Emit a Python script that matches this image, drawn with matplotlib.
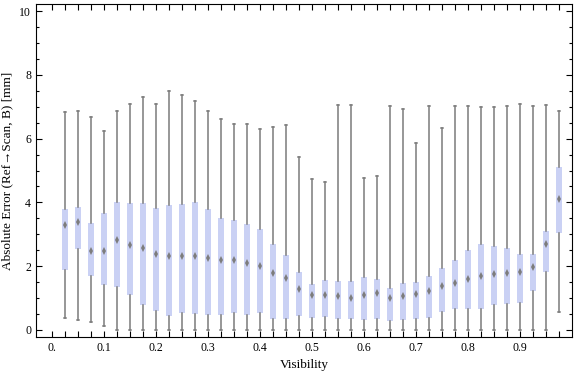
import matplotlib
matplotlib.use("Agg")
import matplotlib.pyplot as plt
from matplotlib.ticker import MultipleLocator, FixedLocator

plt.rcParams['font.family'] = ['Liberation Serif', 'DejaVu Serif']

visibility = [0.025, 0.05, 0.075, 0.1, 0.125, 0.15, 0.175, 0.2, 0.225, 0.25,
              0.275, 0.3, 0.325, 0.35, 0.375, 0.4, 0.425, 0.45, 0.475, 0.5,
              0.525, 0.55, 0.575, 0.6, 0.625, 0.65, 0.675, 0.7, 0.725, 0.75,
              0.775, 0.8, 0.825, 0.85, 0.875, 0.9, 0.925, 0.95, 0.975]
whisker_lo = [0.385, 0.31, 0.25, 0.13, 0, 0, 0, 0, 0, 0,
              0, 0, 0, 0, 0, 0, 0, 0, 0, 0,
              0, 0, 0, 0, 0, 0, 0, 0, 0, 0,
              0, 0, 0, 0, 0, 0, 0, 0, 0.57]
q1 = [1.89, 2.55, 1.70, 1.40, 1.36, 1.11, 0.79, 0.61, 0.45, 0.54,
      0.51, 0.46, 0.46, 0.52, 0.48, 0.52, 0.33, 0.35, 0.43, 0.38,
      0.40, 0.33, 0.36, 0.30, 0.33, 0.27, 0.30, 0.36, 0.39, 0.56,
      0.65, 0.66, 0.65, 0.78, 0.80, 0.86, 1.21, 1.83, 3.03]
median = [3.28, 3.38, 2.49, 2.47, 2.82, 2.65, 2.56, 2.39, 2.33, 2.33,
          2.32, 2.26, 2.19, 2.19, 2.11, 2.02, 1.79, 1.62, 1.30, 1.10,
          1.10, 1.05, 1.01, 1.10, 1.15, 1.00, 1.07, 1.14, 1.22, 1.37,
          1.47, 1.61, 1.69, 1.76, 1.78, 1.82, 1.99, 2.70, 4.11]
q3 = [3.79, 3.86, 3.36, 3.66, 4.01, 3.98, 3.98, 3.82, 3.92, 3.95,
      4.01, 3.80, 3.52, 3.45, 3.33, 3.16, 2.70, 2.35, 1.83, 1.44,
      1.58, 1.54, 1.54, 1.66, 1.61, 1.32, 1.46, 1.51, 1.70, 1.95,
      2.20, 2.51, 2.70, 2.64, 2.58, 2.39, 2.39, 3.11, 5.11]
whisker_hi = [6.82, 6.85, 6.67, 6.23, 6.85, 7.10, 7.30, 7.07, 7.48, 7.38,
              7.17, 6.86, 6.61, 6.45, 6.45, 6.30, 6.36, 6.42, 5.42, 4.73,
              4.63, 7.05, 7.05, 4.76, 4.82, 7.02, 6.92, 5.86, 7.03, 6.32,
              7.02, 7.02, 6.98, 6.98, 7.02, 7.07, 7.02, 7.05, 6.88]

xtick_vals = [0.0, 0.1, 0.2, 0.3, 0.4, 0.5, 0.6, 0.7, 0.8, 0.9]
xtick_labels = ["0.", "0.1", "0.2", "0.3", "0.4", "0.5", "0.6", "0.7", "0.8", "0.9"]

stats = []
for i in range(len(visibility)):
    stats.append({"whislo": whisker_lo[i], "q1": q1[i], "med": median[i],
                  "q3": q3[i], "whishi": whisker_hi[i], "fliers": []})

fig = plt.figure(figsize=(5.76, 3.77), dpi=100)
ax = fig.add_axes([36 / 576, 40 / 377, 536 / 576, 333 / 377])

gray = "#7a7a7a"
ax.bxp(stats, positions=visibility, widths=0.0112, capwidths=0.005,
       patch_artist=True, showfliers=False, manage_ticks=False,
       boxprops=dict(facecolor="#cad1f4", edgecolor="none", linewidth=0),
       whiskerprops=dict(color=gray, linewidth=1.1),
       capprops=dict(color=gray, linewidth=1.1),
       medianprops=dict(linewidth=0))
# median markers
ax.plot(visibility, median, linestyle="none", marker="d", markersize=3.6,
        color="#7d7d7d", markeredgewidth=0, zorder=5)

ax.set_xlim(-0.031, 1.0)
ax.set_ylim(-0.22, 10.22)
ax.xaxis.set_major_locator(FixedLocator(xtick_vals))
ax.set_xticklabels(xtick_labels)
ax.xaxis.set_minor_locator(FixedLocator(visibility))
ax.yaxis.set_major_locator(MultipleLocator(2))
ax.yaxis.set_minor_locator(MultipleLocator(0.5))
ax.tick_params(which="both", direction="in", top=True, right=True,
               labelsize=8.5, width=0.8, color="black")
ax.tick_params(which="major", length=4)
ax.tick_params(which="minor", length=2.5)
ax.tick_params(axis="x", which="minor", length=4)
for s in ax.spines.values():
    s.set_linewidth(0.8)

ax.set_xlabel("Visibility", fontsize=9.5, labelpad=4)
ax.set_ylabel("Absolute Error (Ref\u2192Scan, B) [mm]", fontsize=9.5, labelpad=4)

fig.savefig("out.png", dpi=100)
